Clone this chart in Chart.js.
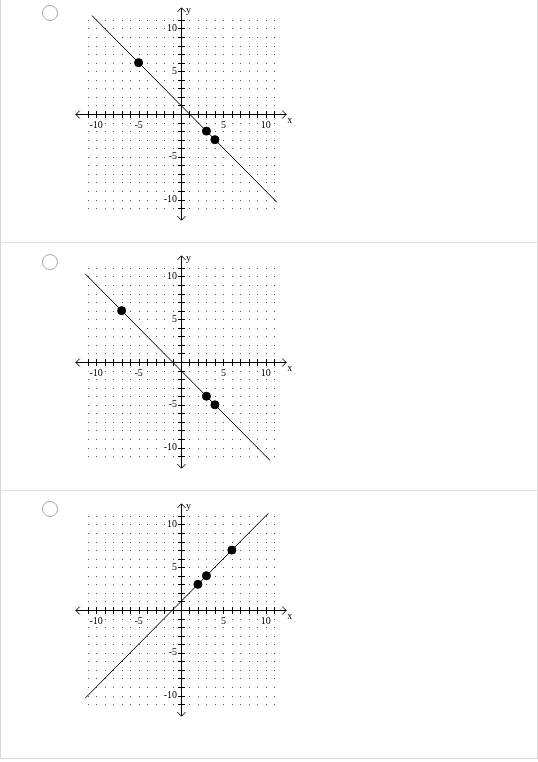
<!DOCTYPE html>
<html><head>
<script src="https://cdn.jsdelivr.net/npm/chart.js@4"></script>
<style>
body{margin:0;background:#fff;width:538px;height:762px;overflow:hidden;position:relative}
.box{position:absolute;left:0;top:-10px;width:536px;height:767px;border:1px solid #d8d8d8}
.sep{position:absolute;left:0;width:538px;height:1px;background:#e2e2e2}
.radio{position:absolute;left:42px;width:14px;height:14px;border:1px solid #aaa;border-radius:50%;background:#fff}
.cv{position:absolute;left:70px;width:222px;height:224px}
</style>
</head><body>
<div class="box"></div>
<div class="sep" style="top:242px"></div>
<div class="sep" style="top:490px"></div>
<div class="radio" style="top:5px"></div>
<div class="radio" style="top:254px"></div>
<div class="radio" style="top:501px"></div>
<div class="cv" style="top:2px"><canvas id="g1"></canvas></div>
<div class="cv" style="top:250px"><canvas id="g2"></canvas></div>
<div class="cv" style="top:498px"><canvas id="g3"></canvas></div>
<script>
// points of each option
var pts1 = [{x:-5,y:6},{x:3,y:-2},{x:4,y:-3}];
var pts2 = [{x:-7,y:6},{x:3,y:-4},{x:4,y:-5}];
var pts3 = [{x:2,y:3},{x:3,y:4},{x:6,y:7}];
// line end points
var line1 = [{x:-10.5,y:11.5},{x:11.3,y:-10.3}];
var line2 = [{x:-11.3,y:10.3},{x:10.5,y:-11.5}];
var line3 = [{x:-11.3,y:-10.3},{x:10.3,y:11.3}];
var tickLabels = [-10,-5,5,10];

var gridPlugin = {
  id:'grid',
  beforeDatasetsDraw: function(chart){
    var c = chart.ctx, sx = chart.scales.x, sy = chart.scales.y;
    var ox = sx.getPixelForValue(0), oy = sy.getPixelForValue(0);
    c.save();
    c.fillStyle = '#555';
    for(var i=-11;i<=11;i++) for(var j=-11;j<=11;j++){
      c.fillRect(Math.round(sx.getPixelForValue(i)), Math.round(sy.getPixelForValue(j)), 1, 1);
    }
    c.strokeStyle = '#000'; c.lineWidth = 1;
    var l = sx.getPixelForValue(-12.4), r = sx.getPixelForValue(12.4);
    var t = sy.getPixelForValue(12.4), b = sy.getPixelForValue(-12.4);
    c.beginPath();
    c.moveTo(l, oy+0.5); c.lineTo(r, oy+0.5);
    c.moveTo(ox+0.5, t); c.lineTo(ox+0.5, b);
    // arrows
    c.moveTo(l+4, oy-3.5); c.lineTo(l, oy+0.5); c.lineTo(l+4, oy+4.5);
    c.moveTo(r-4, oy-3.5); c.lineTo(r, oy+0.5); c.lineTo(r-4, oy+4.5);
    c.moveTo(ox-3.5, t+4); c.lineTo(ox+0.5, t); c.lineTo(ox+4.5, t+4);
    c.moveTo(ox-3.5, b-4); c.lineTo(ox+0.5, b); c.lineTo(ox+4.5, b-4);
    for(var k=-11;k<=11;k++){
      if(k===0) continue;
      var px = Math.round(sx.getPixelForValue(k))+0.5, py = Math.round(sy.getPixelForValue(k))+0.5;
      c.moveTo(px, oy-3); c.lineTo(px, oy+4);
      c.moveTo(ox-3, py); c.lineTo(ox+4, py);
    }
    c.stroke();
    c.font = '10px "Liberation Serif", serif';
    c.fillStyle = '#000';
    tickLabels.forEach(function(v){
      var s = String(v), w = c.measureText(s).width;
      var px = sx.getPixelForValue(v), py = sy.getPixelForValue(v);
      c.fillStyle = '#fff'; c.fillRect(px-w/2-1, oy+5, w+2, 10);
      c.fillStyle = '#000'; c.textAlign='center'; c.textBaseline='top';
      c.fillText(s, px, oy+6);
      c.fillStyle = '#fff'; c.fillRect(ox-5-w, py-5, w+2, 10);
      c.fillStyle = '#000'; c.textAlign='right'; c.textBaseline='middle';
      c.fillText(s, ox-4, py);
    });
    c.textAlign='left'; c.textBaseline='middle';
    c.fillText('x', r+1, oy+6);
    c.fillText('y', ox+5, t+3);
    c.restore();
  }
};

function makeGraph(id, pts, seg){
  new Chart(document.getElementById(id), {
    type:'scatter',
    data:{datasets:[
      {data:pts, pointRadius:4, pointBackgroundColor:'#000', pointBorderColor:'#000', showLine:false},
      {data:seg, showLine:true, borderColor:'#000', borderWidth:1, pointRadius:0}
    ]},
    options:{
      responsive:true, maintainAspectRatio:false, animation:false,
      layout:{padding:0},
      plugins:{legend:{display:false}, tooltip:{enabled:false}},
      scales:{
        x:{display:false, min:-12.5, max:12.5},
        y:{display:false, min:-12.5, max:12.5}
      }
    },
    plugins:[gridPlugin]
  });
}
makeGraph('g1', pts1, line1);
makeGraph('g2', pts2, line2);
makeGraph('g3', pts3, line3);
</script>
</body></html>
